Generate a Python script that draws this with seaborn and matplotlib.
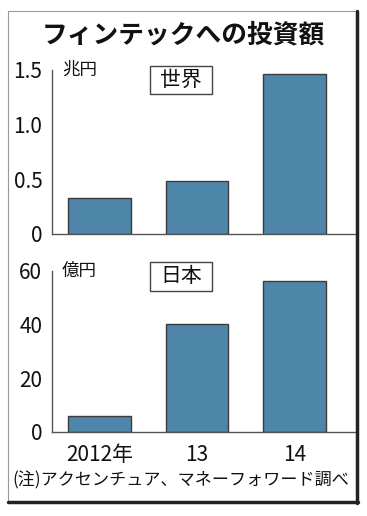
import matplotlib
matplotlib.use("Agg")
import matplotlib.pyplot as plt
import seaborn as sns
from matplotlib.patches import Rectangle
from matplotlib.lines import Line2D

# Data
years = ["2012年", "13", "14"]
world_vals = [0.33, 0.48, 1.46]      # 兆円
japan_vals = [6, 40, 56]             # 億円
world_ticks = [0, 0.5, 1.0, 1.5]
world_tick_labels = ["0", "0.5", "1.0", "1.5"]
japan_ticks = [0, 20, 40, 60]
japan_tick_labels = ["0", "20", "40", "60"]

BAR_COLOR = "#4e86a9"
EDGE_COLOR = "#3c3c3c"
AXIS_COLOR = "#555555"

sns.set_theme(style="white")
plt.rcParams["font.family"] = ["Liberation Sans Narrow", "Noto Sans CJK JP", "DejaVu Sans"]

W, H = 367, 516
fig = plt.figure(figsize=(W / 100, H / 100), dpi=100)


def px_axes(left, top, right, bottom):
    return fig.add_axes([left / W, 1 - bottom / H, (right - left) / W, (bottom - top) / H])


def px_rect(left, top, right, bottom, **kw):
    fig.patches.append(Rectangle((left / W, 1 - bottom / H), (right - left) / W, (bottom - top) / H,
                                 transform=fig.transFigure, **kw))


def px_line(xs, ys, **kw):
    fig.lines.append(Line2D([x / W for x in xs], [1 - y / H for y in ys],
                            transform=fig.transFigure, **kw))


def draw_panel(ax, vals, ticks, labels, unit, show_x):
    sns.barplot(x=years, y=vals, ax=ax, color=BAR_COLOR, saturation=1,
                edgecolor=EDGE_COLOR, linewidth=1, width=0.64)
    ax.set_xlim(-0.487, 2.641)
    ax.set_ylim(ticks[0], ticks[-1])
    ax.set_yticks(ticks)
    ax.set_yticklabels(labels)
    ax.set_xlabel("")
    ax.set_ylabel("")
    for s in ["top", "right"]:
        ax.spines[s].set_visible(False)
    for s in ["left", "bottom"]:
        ax.spines[s].set_color(AXIS_COLOR)
        ax.spines[s].set_linewidth(1)
    ax.tick_params(axis="y", direction="in", length=6, width=1, color=AXIS_COLOR,
                   pad=7, labelsize=15, labelcolor="#111111")
    ax.tick_params(axis="x", length=0, pad=9, labelsize=15, labelcolor="#111111")
    if not show_x:
        ax.set_xticklabels([])
    ax.patch.set_alpha(0)
    ax.text(0.032, 1.0, unit, transform=ax.transAxes, va="center", ha="left",
            fontsize=12.6, color="#111111", family=["Noto Sans CJK JP"])


ax_top = px_axes(52, 70, 357, 233.5)
draw_panel(ax_top, world_vals, world_ticks, world_tick_labels, "兆円", False)

ax_bot = px_axes(52, 270.7, 357, 431.7)
draw_panel(ax_bot, japan_vals, japan_ticks, japan_tick_labels, "億円", True)

# region labels in boxes
for label, top, bottom in [("世界", 66, 94), ("日本", 262, 291)]:
    px_rect(150, top, 212, bottom, facecolor="white", edgecolor="#444444", linewidth=1)
    fig.text(181 / W, 1 - (top + bottom) / 2 / H, label, ha="center", va="center",
             fontsize=15, color="#111111", family=["Noto Sans CJK JP"])

# title and source note
fig.text(183.5 / W, 1 - 35 / H, "フィンテックへの投資額", ha="center", va="center",
         fontsize=18.5, weight="bold", color="#111111", family=["Noto Sans CJK JP"])
fig.text(181 / W, 1 - 480 / H, "(注)アクセンチュア、マネーフォワード調べ", ha="center", va="center",
         fontsize=12.3, color="#111111")

# outer frame: light top/left, dark right/bottom
px_line([8, 357], [11, 11], color="#999999", linewidth=0.8)
px_line([8, 8], [11, 502], color="#999999", linewidth=0.8)
px_line([357, 357], [11, 503], color="#222222", linewidth=2.5)
px_line([8, 358], [502, 502], color="#222222", linewidth=2.5)

fig.savefig("out.png", dpi=100)
